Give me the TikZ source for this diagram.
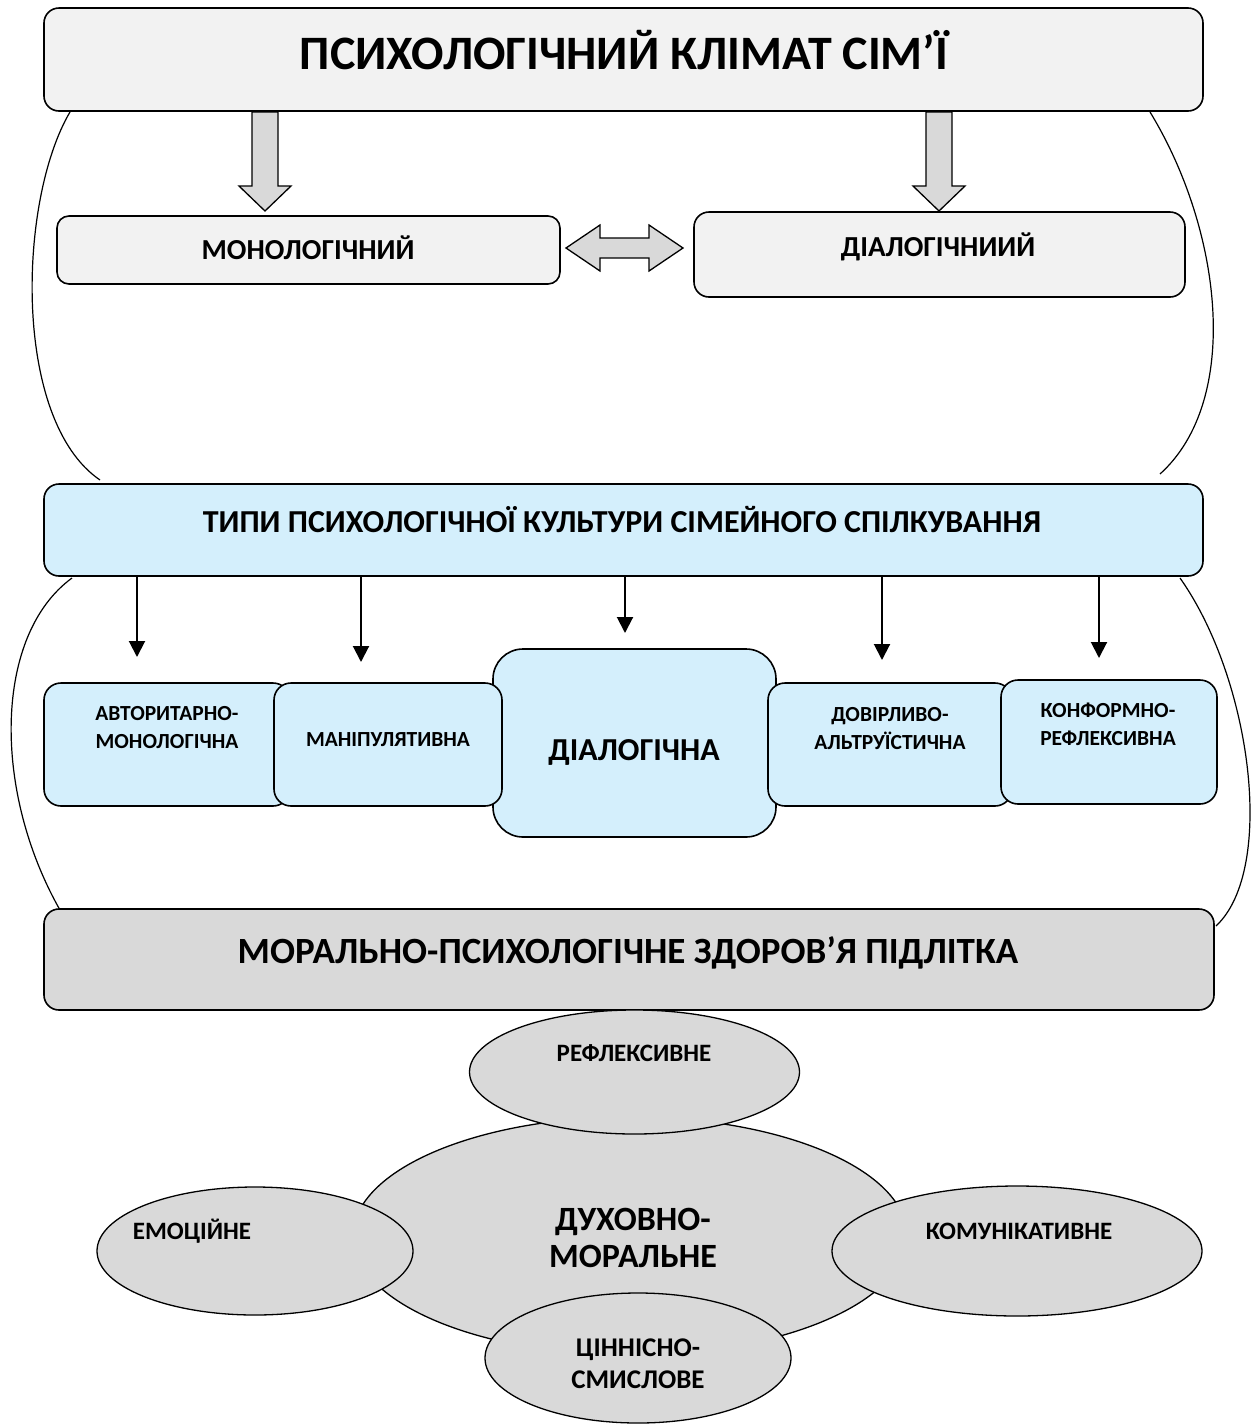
\documentclass[tikz,border=0pt]{standalone}
\usepackage{fontspec}
\setmainfont{Carlito}
\usetikzlibrary{arrows.meta,shapes.geometric}
\definecolor{boxgray}{HTML}{F2F2F2}
\definecolor{boxblue}{HTML}{D4EFFC}
\definecolor{shadegray}{HTML}{D9D9D9}
\newcommand\fsz[1]{\fontsize{#1}{#1}\selectfont\bfseries}
\tikzset{
  base/.style={draw=black, line width=1.6pt, inner sep=0pt, rectangle},
  graybox/.style={base, fill=boxgray, rounded corners=15pt},
  bluebox/.style={base, fill=boxblue, rounded corners=17pt},
  darkbox/.style={base, fill=shadegray, rounded corners=15pt},
  oval/.style={draw=black, line width=1.3pt, fill=shadegray, ellipse, inner sep=0pt},
  lbl/.style={anchor=base, inner sep=0pt, align=center},
  blockarrow/.style={draw=black, line width=1.3pt, fill=shadegray, line join=miter},
  thin/.style={draw=black, line width=2pt, -{Triangle[width=16pt,length=16pt]}},
  swoop/.style={draw=black, line width=1.2pt},
}
\begin{document}
\begin{tikzpicture}[x=1pt,y=-1pt]
\useasboundingbox (0,0) rectangle (1257,1425);
\fill[white] (0,0) rectangle (1257,1425);

% curves (behind)
\draw[swoop] (70,112) .. controls (18,200) and (12,420) .. (100,480);
\draw[swoop] (1150,112) .. controls (1222,230) and (1242,400) .. (1160,474);
\draw[swoop] (72,578) .. controls (-6,635) and (-8,790) .. (60,910);
\draw[swoop] (1180,578) .. controls (1252,680) and (1276,870) .. (1216,926);

% top
\node[graybox, minimum width=1159pt, minimum height=103pt] (top) at (623.5,59.5) {};
\node[lbl] (toplbl) at (624,69) {\fsz{48}ПСИХОЛОГІЧНИЙ КЛІМАТ СІМ’Ї};

% block arrows
\draw[blockarrow] (252,112) -- (278,112) -- (278,186) -- (291,186) -- (265,211) -- (239,186) -- (252,186) -- cycle;
\draw[blockarrow] (926,112) -- (952,112) -- (952,186) -- (965,186) -- (939,211) -- (913,186) -- (926,186) -- cycle;

\node[graybox, rounded corners=12pt, minimum width=503pt, minimum height=68pt] (mono) at (308.5,250) {};
\node[lbl] (monolbl) at (308,259) {\fsz{29}МОНОЛОГІЧНИЙ};
\node[graybox, minimum width=491pt, minimum height=85pt] (dia) at (939.5,254.5) {};
\node[lbl] (dialbl) at (938,256) {\fsz{29}ДІАЛОГІЧНИИЙ};

% double arrow
\draw[blockarrow] (566,248) -- (600,225) -- (600,238) -- (649,238) -- (649,225) -- (683,248) -- (649,271) -- (649,258) -- (600,258) -- (600,271) -- cycle;

% types
\node[bluebox, rounded corners=15pt, minimum width=1159pt, minimum height=92pt] (tipi) at (623.5,530) {};
\node[lbl] (tipilbl) at (622,532) {\fsz{32}ТИПИ ПСИХОЛОГІЧНОЇ КУЛЬТУРИ СІМЕЙНОГО СПІЛКУВАННЯ};

% small boxes
\node[bluebox, minimum width=246pt, minimum height=123pt] (avt) at (167,744.5) {};
\node[bluebox, rounded corners=30pt, minimum width=283pt, minimum height=188pt] (dial) at (634.5,743) {};
\node[bluebox, minimum width=228pt, minimum height=123pt] (man) at (388,744.5) {};
\node[bluebox, minimum width=244pt, minimum height=123pt] (dov) at (890,744.5) {};
\node[bluebox, minimum width=216pt, minimum height=124pt] (konf) at (1109,742) {};

\node[lbl] (avtlbl1) at (167,720) {\fsz{21.5}АВТОРИТАРНО-};
\node[lbl] (avtlbl2) at (167,748) {\fsz{21.5}МОНОЛОГІЧНА};
\node[lbl] (manlbl) at (388,746) {\fsz{21.5}МАНІПУЛЯТИВНА};
\node[lbl] (diallbl) at (634,760) {\fsz{32}ДІАЛОГІЧНА};
\node[lbl] (dovlbl1) at (890,721) {\fsz{21.5}ДОВІРЛИВО-};
\node[lbl] (dovlbl2) at (890,749) {\fsz{21.5}АЛЬТРУЇСТИЧНА};
\node[lbl] (konflbl1) at (1108,717) {\fsz{21.5}КОНФОРМНО-};
\node[lbl] (konflbl2) at (1108,745) {\fsz{21.5}РЕФЛЕКСИВНА};

% thin arrows
\coordinate (t1) at (137,657);
\coordinate (t2) at (361,662);
\coordinate (t3) at (625,633);
\coordinate (t4) at (882,660);
\coordinate (t5) at (1099,658);
\foreach \c in {t1,t2,t3,t4,t5} \draw[thin] (tipi.south -| \c) -- (\c);

% bottom
\node[darkbox, minimum width=1170pt, minimum height=101pt] (zdr) at (629,959.5) {};
\node[lbl] (zdrlbl) at (628,963) {\fsz{37}МОРАЛЬНО-ПСИХОЛОГІЧНЕ ЗДОРОВ’Я ПІДЛІТКА};

% ellipses
\node[oval, minimum width=554pt, minimum height=238pt] (duh) at (630,1236) {};
\node[oval, minimum width=330pt, minimum height=124pt] (refl) at (634.5,1072) {};
\node[oval, minimum width=316pt, minimum height=128pt] (emo) at (255,1251) {};
\node[oval, minimum width=370pt, minimum height=130pt] (kom) at (1017,1251) {};
\node[oval, minimum width=306pt, minimum height=130pt] (cin) at (638,1358) {};

\node[lbl] (refllbl) at (634,1061) {\fsz{25}РЕФЛЕКСИВНЕ};
\node[lbl] (emolbl) at (192,1239) {\fsz{25}ЕМОЦІЙНЕ};
\node[lbl] (komlbl) at (1019,1239) {\fsz{25}КОМУНІКАТИВНЕ};
\node[lbl] (duhlbl1) at (633,1230) {\fsz{34}ДУХОВНО-};
\node[lbl] (duhlbl2) at (633,1267) {\fsz{34}МОРАЛЬНЕ};
\node[lbl] (cinlbl1) at (638,1356) {\fsz{27}ЦІННІСНО-};
\node[lbl] (cinlbl2) at (638,1388) {\fsz{27}СМИСЛОВЕ};
\end{tikzpicture}
\end{document}
